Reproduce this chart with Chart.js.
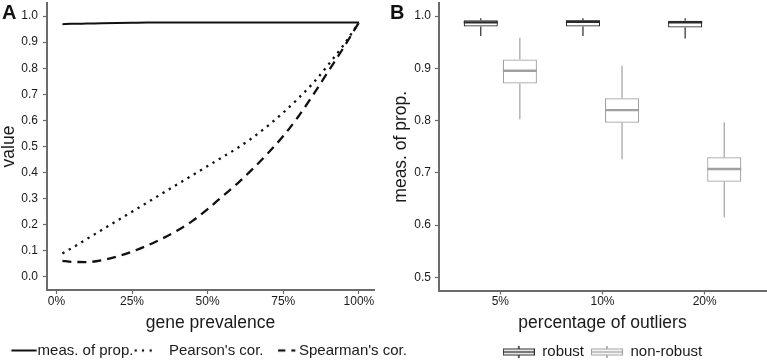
<!DOCTYPE html>
<html>
<head>
<meta charset="utf-8">
<script src="https://cdn.jsdelivr.net/npm/chart.js@4.4.1/dist/chart.umd.min.js"></script>
<style>
  html, body { margin: 0; padding: 0; background: #fff; }
  #wrap { position: relative; width: 767px; height: 362px; overflow: hidden; }
  canvas { position: absolute; top: 0; }
  #cA { left: 0; }
  #cB { left: 383px; }
  .tag { position: absolute; top: 2px; font: bold 20px 'Liberation Sans', Arial, sans-serif; line-height: 20px; color: #111; }
</style>
</head>
<body>
<div id="wrap">
  <canvas id="cA" width="416" height="362"></canvas>
  <canvas id="cB" width="384" height="362"></canvas>
  <div class="tag" style="left:2px">A</div>
  <div class="tag" style="left:390px">B</div>
</div>
<script>
// Panel A: similarity measures vs gene prevalence (%)
const prevalence = [2, 5, 10, 15, 20, 25, 30, 35, 40, 45, 50, 55, 60, 65, 70, 75, 80, 85, 90, 95, 100];
const measProp = [0.969, 0.970, 0.971, 0.972, 0.973, 0.974, 0.975, 0.975, 0.975, 0.975, 0.975,
                  0.975, 0.975, 0.975, 0.975, 0.975, 0.975, 0.975, 0.975, 0.975, 0.975];
const pearson = [0.09, 0.11, 0.145, 0.18, 0.215, 0.25, 0.285, 0.32, 0.355, 0.39, 0.425,
                 0.46, 0.495, 0.535, 0.58, 0.63, 0.685, 0.745, 0.815, 0.89, 0.975];
const spearman = [0.062, 0.058, 0.057, 0.064, 0.078, 0.097, 0.12, 0.147, 0.178, 0.215, 0.26,
                  0.31, 0.36, 0.415, 0.475, 0.54, 0.615, 0.70, 0.79, 0.88, 0.975];
const prevalenceTicks = [0, 25, 50, 75, 100];
const valueTicks = [0, 0.1, 0.2, 0.3, 0.4, 0.5, 0.6, 0.7, 0.8, 0.9, 1.0];

// Panel B: box plots per outlier percentage
const outlierPct = ['5%', '10%', '20%'];
const robustMin = [0.962, 0.962, 0.957];
const robustQ1 = [0.980, 0.980, 0.978];
const robustMed = [0.988, 0.989, 0.988];
const robustQ3 = [0.992, 0.992, 0.991];
const robustMax = [0.996, 0.996, 0.996];
const nonRobustMin = [0.8025, 0.726, 0.615];
const nonRobustQ1 = [0.871, 0.796, 0.683];
const nonRobustMed = [0.8955, 0.820, 0.7075];
const nonRobustQ3 = [0.917, 0.8426, 0.730];
const nonRobustMax = [0.9585, 0.905, 0.797];
const propTicks = [0.5, 0.6, 0.7, 0.8, 0.9, 1.0];

const FONT = "'Liberation Sans', Arial, sans-serif";
const AXIS = '#6b6b6b';
const TEXT = '#1a1a1a';
const ROBUST = '#2b2b2b';
const NONROBUST = '#a0a0a0';

Chart.defaults.font.family = FONT;

function glyph(w, h, draw) {
    const c = document.createElement('canvas');
    c.width = w;
    c.height = h;
    draw(c.getContext('2d'));
    return c;
}

// legend keys for panel A (line styles)
const keySolid = glyph(34, 12, g => { g.fillStyle = '#111'; g.fillRect(8.7, 5, 25, 2); });
const keyDotted = glyph(34, 12, g => {
    g.fillStyle = '#111';
    for (const cx of [1.7, 9, 16.7]) g.fillRect(cx - 1.1, 4.9, 2.2, 2.2);
});
const keyDashed = glyph(34, 12, g => {
    g.fillStyle = '#111';
    g.fillRect(14, 4.9, 7.3, 2.2);
    g.fillRect(27.3, 4.9, 4, 2.2);
});

// legend keys for panel B (small box glyph)
function boxKey(color) {
    return glyph(32, 12, g => {
        g.strokeStyle = color;
        g.lineWidth = 1;
        g.strokeRect(0.5, 3.5, 31, 6);
        g.lineWidth = 1.5;
        g.beginPath();
        g.moveTo(0, 6.5); g.lineTo(32, 6.5);
        g.moveTo(16, 0); g.lineTo(16, 3);
        g.moveTo(16, 10); g.lineTo(16, 12);
        g.stroke();
    });
}

const pts = arr => prevalence.map((p, i) => ({ x: p, y: arr[i] }));

function axisStyle() {
    return {
        grid: { display: true, drawOnChartArea: false, offset: false, tickLength: 4, tickColor: AXIS, tickWidth: 1.2 },
        border: { display: true, color: AXIS, width: 2 },
    };
}

// fixed axis sizes; drop the label overhang padding so the plot area stays put
function fixHeight(h) {
    return s => { s.height = h; s.paddingLeft = 0; s.paddingRight = 0; };
}
function fixWidth(w) {
    return s => { s.width = w; s.paddingTop = 0; s.paddingBottom = 0; };
}

new Chart(document.getElementById('cA'), {
    type: 'line',
    data: {
        datasets: [
            { label: 'meas. of prop.', data: pts(measProp), borderColor: '#111', borderWidth: 2,
              pointRadius: 0, cubicInterpolationMode: 'monotone', fill: false },
            { label: "Pearson's cor.", data: pts(pearson), borderColor: '#111', borderWidth: 2.3,
              borderDash: [2.3, 5], pointRadius: 0, cubicInterpolationMode: 'monotone', fill: false },
            { label: "Spearman's cor.", data: pts(spearman), borderColor: '#111', borderWidth: 2.3,
              borderDash: [9, 6], pointRadius: 0, cubicInterpolationMode: 'monotone', fill: false },
        ]
    },
    options: {
        responsive: false,
        animation: false,
        events: [],
        layout: { padding: { top: 3, left: 0, right: 0, bottom: 0 } },
        scales: {
            x: {
                type: 'linear',
                min: -3.1,
                max: 105,
                ...axisStyle(),
                afterBuildTicks: s => { s.ticks = prevalenceTicks.map(v => ({ value: v })); },
                afterFit: fixHeight(46),
                ticks: {
                    color: TEXT, font: { size: 12 }, padding: 0, maxRotation: 0, autoSkip: false,
                    callback: v => v + '%',
                },
                title: {
                    display: true, text: 'gene prevalence', color: TEXT,
                    font: { size: 17.5, lineHeight: 1.2 }, padding: { top: 0, bottom: 2.3 },
                },
            },
            y: {
                min: -0.05,
                max: 1.05,
                ...axisStyle(),
                afterBuildTicks: s => { s.ticks = valueTicks.map(v => ({ value: v })); },
                afterFit: fixWidth(47),
                ticks: { color: TEXT, font: { size: 12 }, padding: 5, callback: v => v.toFixed(1) },
                title: {
                    display: true, text: 'value', color: TEXT,
                    font: { size: 17.5, lineHeight: 1 }, padding: { top: 0, bottom: 0 },
                },
            },
            // empty right axis, only keeps room so the legend can run past the plot
            yR: {
                position: 'right',
                display: true,
                grid: { display: false },
                border: { display: false },
                ticks: { display: false },
                afterFit: fixWidth(42),
            },
        },
        plugins: {
            tooltip: { enabled: false },
            legend: {
                position: 'bottom',
                maxHeight: 26,
                labels: {
                    color: TEXT,
                    font: { size: 15 },
                    usePointStyle: true,
                    pointStyleWidth: 21,
                    padding: 7,
                    generateLabels: () => [
                        { text: 'meas. of prop.', pointStyle: keySolid, fillStyle: 'transparent', strokeStyle: 'transparent', lineWidth: 0, fontColor: TEXT },
                        { text: "Pearson's cor.", pointStyle: keyDotted, fillStyle: 'transparent', strokeStyle: 'transparent', lineWidth: 0, fontColor: TEXT },
                        { text: "Spearman's cor.", pointStyle: keyDashed, fillStyle: 'transparent', strokeStyle: 'transparent', lineWidth: 0, fontColor: TEXT },
                    ],
                },
            },
        },
    },
});

// whiskers and medians on top of the floating-bar boxes
const boxWhiskers = {
    id: 'boxWhiskers',
    afterDatasetsDraw(chart) {
        const { ctx } = chart;
        const y = chart.scales.y;
        chart.data.datasets.forEach((ds, di) => {
            const meta = chart.getDatasetMeta(di);
            const st = ds.stats;
            ctx.save();
            ctx.strokeStyle = ds.borderColor;
            meta.data.forEach((bar, i) => {
                const half = bar.width / 2;
                ctx.lineWidth = 1.2;
                ctx.beginPath();
                ctx.moveTo(bar.x, y.getPixelForValue(st.q3[i]));
                ctx.lineTo(bar.x, y.getPixelForValue(st.max[i]));
                ctx.moveTo(bar.x, y.getPixelForValue(st.q1[i]));
                ctx.lineTo(bar.x, y.getPixelForValue(st.min[i]));
                ctx.stroke();
                const my = y.getPixelForValue(st.med[i]);
                ctx.lineWidth = 2.4;
                ctx.beginPath();
                ctx.moveTo(bar.x - half, my);
                ctx.lineTo(bar.x + half, my);
                ctx.stroke();
            });
            ctx.restore();
        });
    }
};

function boxData(q1, q3) {
    return outlierPct.map((c, i) => ({ x: i + 1, y: [q1[i], q3[i]] }));
}

new Chart(document.getElementById('cB'), {
    type: 'bar',
    data: {
        datasets: [
            { label: 'robust', data: boxData(robustQ1, robustQ3), backgroundColor: '#fff',
              borderColor: ROBUST, borderWidth: 1.2, borderSkipped: false,
              categoryPercentage: 0.765, barPercentage: 0.872,
              stats: { min: robustMin, q1: robustQ1, med: robustMed, q3: robustQ3, max: robustMax } },
            { label: 'non-robust', data: boxData(nonRobustQ1, nonRobustQ3), backgroundColor: '#fff',
              borderColor: NONROBUST, borderWidth: 1.2, borderSkipped: false,
              categoryPercentage: 0.765, barPercentage: 0.872,
              stats: { min: nonRobustMin, q1: nonRobustQ1, med: nonRobustMed, q3: nonRobustQ3, max: nonRobustMax } },
        ]
    },
    options: {
        responsive: false,
        animation: false,
        events: [],
        layout: { padding: { top: 3, left: 0, right: 1, bottom: 0 } },
        scales: {
            x: {
                type: 'linear',
                min: 0.4,
                max: 3.6,
                offset: false,
                ...axisStyle(),
                afterBuildTicks: s => { s.ticks = outlierPct.map((c, i) => ({ value: i + 1 })); },
                afterFit: fixHeight(46.5),
                ticks: {
                    color: TEXT, font: { size: 12 }, padding: 0, maxRotation: 0, autoSkip: false,
                    callback: v => outlierPct[v - 1],
                },
                title: {
                    display: true, text: 'percentage of outliers', color: TEXT,
                    font: { size: 17.5, lineHeight: 1.2 }, padding: { top: 0, bottom: 3.3 },
                },
            },
            y: {
                min: 0.475,
                max: 1.025,
                ...axisStyle(),
                afterBuildTicks: s => { s.ticks = propTicks.map(v => ({ value: v })); },
                afterFit: fixWidth(56),
                ticks: { color: TEXT, font: { size: 12 }, padding: 4, callback: v => v.toFixed(1) },
                title: {
                    display: true, text: 'meas. of prop.', color: TEXT,
                    font: { size: 17.5, lineHeight: 1 }, padding: { top: 9.25, bottom: 0 },
                },
            },
        },
        plugins: {
            tooltip: { enabled: false },
            legend: {
                position: 'bottom',
                fullSize: false,
                maxHeight: 25,
                labels: {
                    color: TEXT,
                    font: { size: 15 },
                    usePointStyle: true,
                    pointStyleWidth: 32,
                    padding: 7,
                    generateLabels: () => [
                        { text: 'robust', pointStyle: boxKey(ROBUST), fillStyle: 'transparent', strokeStyle: 'transparent', lineWidth: 0, fontColor: TEXT },
                        { text: 'non-robust', pointStyle: boxKey(NONROBUST), fillStyle: 'transparent', strokeStyle: 'transparent', lineWidth: 0, fontColor: TEXT },
                    ],
                },
            },
        },
    },
    plugins: [boxWhiskers],
});
</script>
</body>
</html>
